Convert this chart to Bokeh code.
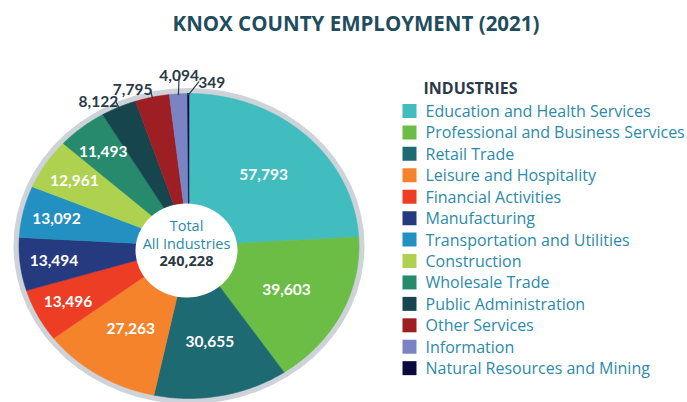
import numpy as np
from bokeh.plotting import figure
from bokeh.models import Range1d, ColumnDataSource
from bokeh.core.properties import value
from bokeh.embed import file_html
from bokeh.resources import INLINE

# ---------------- data ----------------
industries = [
    "Education and Health Services",
    "Professional and Business Services",
    "Retail Trade",
    "Leisure and Hospitality",
    "Financial Activities",
    "Manufacturing",
    "Transportation and Utilities",
    "Construction",
    "Wholesale Trade",
    "Public Administration",
    "Other Services",
    "Information",
    "Natural Resources and Mining",
]
employment = [57793, 39603, 30655, 27263, 13496, 13494, 13092, 12961, 11493, 8122, 7795, 4094, 349]
colors = ["#41BDC0", "#6BBD45", "#1E6A72", "#F5832B", "#EE3D25", "#263A80", "#2390C2",
          "#AED250", "#278A6D", "#16454E", "#9E1F23", "#7A84C4", "#0B0A3D"]
total_text = ["Total", "All Industries", "240,228"]
title_text = "KNOX COUNTY EMPLOYMENT (2021)"
legend_title = "INDUSTRIES"

# ---------------- layout (page pixels) ----------------
W, H = 687, 402
OX, OY = 0, 0
CX, CY, RX, RY = 188.5, 245.5, 170.0, 152.5
RING = 5.5
FONT = value("Lato")
FONT2 = value("Open Sans")
TEXT_BLUE = "#2C8AAA"
DARK = "#2B3A47"

p = figure(width=W, height=H, x_range=Range1d(0, W), y_range=Range1d(H, 0),
           output_backend="svg", toolbar_location=None, min_border=0,
           x_axis_location=None, y_axis_location=None,
           outline_line_color=None, background_fill_color="white")
p.grid.grid_line_color = None

# gray outer ring
p.ellipse(x=[CX - OX], y=[CY - OY], width=[2 * (RX + RING)], height=[2 * (RY + RING)],
          fill_color="#CDD3D8", line_color=None)

# slices
vals = np.array(employment, dtype=float)
frac = vals / vals.sum()
ends = np.cumsum(frac) * 2 * np.pi
starts = ends - frac * 2 * np.pi
mids = (starts + ends) / 2
xs, ys = [], []
for a0, a1 in zip(starts, ends):
    t = np.linspace(a0, a1, max(4, int((a1 - a0) / 0.01)))
    xs.append(list(np.concatenate([[CX], CX + RX * np.sin(t)]) - OX))
    ys.append(list(np.concatenate([[CY], CY - RY * np.cos(t)]) - OY))
src = ColumnDataSource(dict(xs=xs, ys=ys, color=colors, name=industries, val=employment))
p.patches("xs", "ys", source=src, fill_color="color", line_color="color", line_width=0.5)

# center hole
p.ellipse(x=[186 - OX], y=[250 - OY], width=[102], height=[94],
          fill_color="white", line_color=None)
p.text(x=[186 - OX] * 2, y=[225 - OY, 243 - OY], text=total_text[:2],
       text_font=FONT2, text_font_size="14.5px", text_color=TEXT_BLUE,
       text_align="center", text_baseline="middle")
p.text(x=[186 - OX], y=[260 - OY], text=total_text[2:],
       text_font=FONT2, text_font_size="14.5px", text_font_style="bold", text_color=DARK,
       text_align="center", text_baseline="middle")

# inner value labels
fmt = [f"{v:,}" for v in employment]
in_x, in_y, in_t = [], [], []
for v, m, s in zip(employment, mids, fmt):
    if v < 10000:
        continue
    r = 0.64 if v > 20000 else 0.8
    in_x.append(CX + r * RX * np.sin(m) - OX)
    in_y.append(CY - r * RY * np.cos(m) - OY)
    in_t.append(s)
p.text(x=in_x, y=in_y, text=in_t, text_font=FONT, text_font_size="15.5px",
       text_font_style="bold", text_color="white", text_align="center", text_baseline="middle")

# outer labels with leader lines: (r_end, end dx, text align, text dx, text dy)
outer_style = [(1.05, 0, "right", 3, 1), (1.05, 0, "right", 2, 0),
               (1.12, 2, "center", 0, 0), (1.08, 11, "left", -1, 1)]
k = 0
lx0, ly0, lx1, ly1 = [], [], [], []
for v, m, s in zip(employment, mids, fmt):
    if v >= 10000:
        continue
    r_end, edx, al, tdx, tdy = outer_style[k]
    k += 1
    x0 = CX + 0.99 * RX * np.sin(m)
    y0 = CY - 0.99 * RY * np.cos(m)
    x1 = CX + r_end * RX * np.sin(m) + edx
    y1 = CY - r_end * RY * np.cos(m)
    lx0.append(x0 - OX); ly0.append(y0 - OY); lx1.append(x1 - OX); ly1.append(y1 - OY)
    p.text(x=[x1 + tdx - OX], y=[y1 + tdy - OY], text=[s], text_font=FONT,
           text_font_size="15.5px", text_font_style="bold", text_color=DARK,
           text_align=al, text_baseline="alphabetic")
p.segment(x0=lx0, y0=ly0, x1=lx1, y1=ly1, line_color=DARK, line_width=1.2)

# title
p.text(x=[355.5 - OX], y=[22 - OY], text=[title_text], text_font=FONT2, text_font_size="20.5px",
       text_font_style="bold", text_color="#1F4D5E", text_align="center", text_baseline="middle")

# legend (manual)
p.text(x=[423 - OX], y=[87 - OY], text=[legend_title], text_font=FONT2, text_font_size="16px",
       text_font_style="bold", text_color=DARK, text_align="left", text_baseline="middle")
row_y = [110.5 + 21.43 * i - OY for i in range(len(industries))]
p.rect(x=[409 - OX] * len(industries), y=row_y, width=14, height=14,
       fill_color=colors, line_color=None)
p.text(x=[425 - OX] * len(industries), y=row_y, text=industries, text_font=FONT2,
       text_font_size="16px", text_color=TEXT_BLUE, text_align="left", text_baseline="middle")

open("out.html", "w").write(file_html(p, INLINE))
